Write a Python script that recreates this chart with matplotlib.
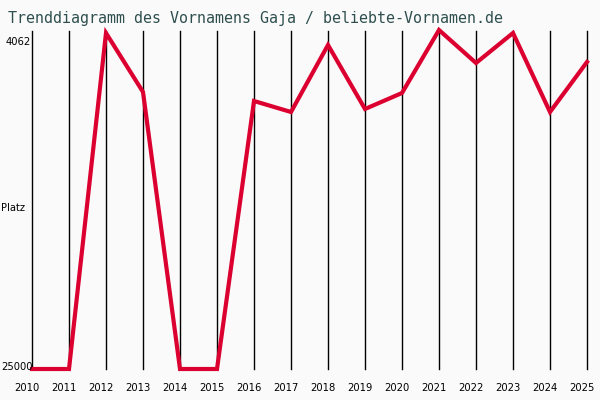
import matplotlib.pyplot as plt
import matplotlib.transforms as mtransforms

# Jahre und Platzierungen (25000 = nicht in der Liste)
jahre = list(range(2010, 2026))
platz = [25000, 25000, 4247, 7891, 25000, 25000, 8447, 9127,
         4988, 8941, 7953, 4062, 6100, 4247, 9127, 6038]
bester = 4062
schlechtester = 25000

fig = plt.figure(figsize=(6, 4), dpi=100, facecolor='#fafafa')
ax = fig.add_axes([32 / 600, 1 - 369 / 400, 555 / 600, 339 / 400])
ax.set_facecolor('#fafafa')

for j in jahre:
    ax.axvline(j, ymin=0, ymax=0.997, color='black', lw=1, clip_on=False)

ax.plot(jahre, platz, color='#dc0030', lw=3, clip_on=False,
        solid_joinstyle='miter', zorder=3)

ax.set_xlim(2010, 2025)
ax.set_ylim(schlechtester, bester)
for s in ax.spines.values():
    s.set_visible(False)
ax.set_yticks([])
ax.set_xticks(jahre)
ax.set_xticklabels([str(j) for j in jahre], fontsize=7.2)
ax.tick_params(axis='x', length=0, pad=10)
versatz = mtransforms.ScaledTranslation(-5 / 100, 0, fig.dpi_scale_trans)
for lab in ax.get_xticklabels():
    lab.set_transform(lab.get_transform() + versatz)

fig.text(31 / 600, 1 - 42 / 400, str(bester), ha='right', va='center', fontsize=7.2)
fig.text(1 / 600, 1 - 367 / 400, str(schlechtester), ha='left', va='center', fontsize=7.2)
fig.text(1 / 600, 1 - 208 / 400, 'Platz', ha='left', va='center', fontsize=7.2)

fig.text(8 / 600, 1 - 18 / 400, 'Trenddiagramm des Vornamens Gaja / beliebte-Vornamen.de',
         family='DejaVu Sans Mono', fontsize=10.8, color='#2f4f4f', ha='left', va='center')

fig.savefig('out.png', dpi=100, facecolor='#fafafa')
